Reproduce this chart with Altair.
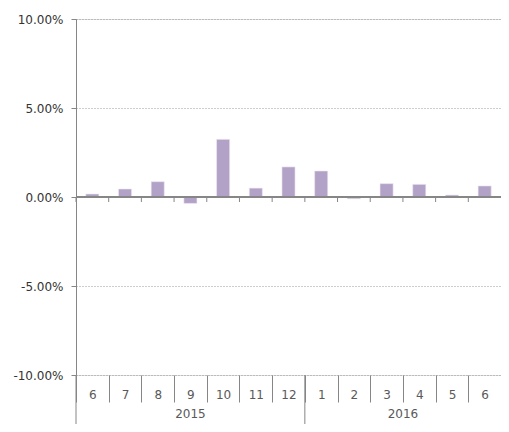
import altair as alt
import pandas as pd

# ---- data ----
years = ["2015"] * 7 + ["2016"] * 6
months = ["6", "7", "8", "9", "10", "11", "12", "1", "2", "3", "4", "5", "6"]
values = [0.0017, 0.0045, 0.0086, -0.0036, 0.0324, 0.0050, 0.0169,
          0.0146, -0.0010, 0.0075, 0.0071, 0.0011, 0.0062]
y_ticks = [-0.10, -0.05, 0.0, 0.05, 0.10]
year_labels = ["2015", "2016"]
year_counts = [7, 6]

# ---- layout ----
W, H = 425, 356
FONT = "DejaVu Sans"
GRAY = "#868686"

keys = [f"{y}-{m}-{i}" for i, (y, m) in enumerate(zip(years, months))]
df = pd.DataFrame({"key": keys, "month": months, "value": values})

starts = []
s = 0
for c in year_counts:
    starts.append(s)
    s += c
year_df = pd.DataFrame({
    "year": year_labels,
    "mid": [st + c / 2 for st, c in zip(starts, year_counts)],
})
bounds_df = pd.DataFrame({"b": starts})

xscale = alt.Scale(domain=keys, paddingInner=0, paddingOuter=0)
qscale = alt.Scale(domain=[0, len(months)], nice=False, zero=False)
yscale = alt.Scale(domain=[-0.10, 0.10], nice=False)

bars = alt.Chart(df).mark_bar(
    color="#b3a2c7", width=alt.RelativeBandSize(0.4),
    stroke="#ece7f2", strokeWidth=0.6
).encode(
    x=alt.X("key:N", sort=keys, scale=xscale,
            axis=alt.Axis(
                orient="bottom", title=None, domain=False, grid=False,
                labelAngle=0, labelExpr="split(datum.label, '-')[1]",
                tickBand="extent", labelPadding=-13, tickSize=27,
                tickColor=GRAY, tickWidth=1, labelFont=FONT,
                labelFontSize=12, labelColor="#595959", labelBaseline="top")),
    y=alt.Y("value:Q", scale=yscale,
            axis=alt.Axis(values=y_ticks, format=".2%", title=None,
                          labelExpr="replace(datum.label, '\u2212', '-')",
                          grid=True, gridDash=[1, 2], gridColor="#9a9a9a",
                          domainColor=GRAY, tickColor=GRAY, tickSize=5,
                          labelPadding=8, labelFont=FONT, labelFontSize=12,
                          labelColor="#333333")),
)

zero_line = alt.Chart(df).mark_rule(color=GRAY, strokeWidth=1.5).encode(
    y=alt.datum(0, scale=yscale)
)

zero_ticks = alt.Chart(df).mark_rule(color=GRAY, y2Offset=5).encode(
    x=alt.X("key:N", sort=keys, scale=xscale, bandPosition=0, axis=None),
    y=alt.datum(0, scale=yscale),
    y2=alt.datum(0),
)

year_text = alt.Chart(year_df).mark_text(
    font=FONT, fontSize=12, color="#595959", baseline="middle"
).encode(
    x=alt.X("mid:Q", scale=qscale, axis=None),
    y=alt.value(H + 39),
    text="year:N",
)

year_rules = alt.Chart(bounds_df).mark_rule(color=GRAY, strokeWidth=1).encode(
    x=alt.X("b:Q", scale=qscale, axis=None),
    y=alt.value(H),
    y2=alt.value(H + 49),
)

chart = alt.layer(bars, zero_line, zero_ticks, year_text, year_rules).resolve_scale(
    x="independent"
).properties(
    width=W, height=H,
    autosize=alt.AutoSizeParams(type="none"),
    padding={"left": 68, "top": 11, "right": 0, "bottom": 49},
).configure_view(stroke=None).configure(background="white")

chart.save("out.html", embed_options={"renderer": "svg", "actions": False})
